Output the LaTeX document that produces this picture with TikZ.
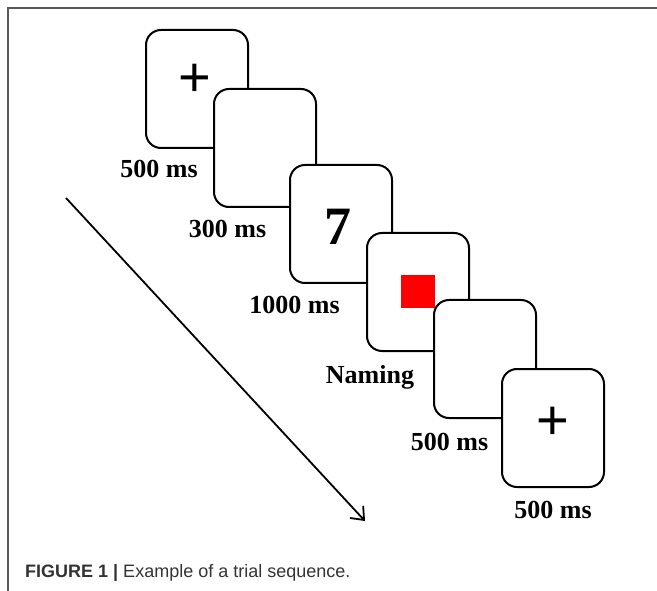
\documentclass[tikz,border=0pt]{standalone}
\usepackage{fontspec}
\setmainfont{Liberation Serif}
\newfontfamily\capfont{Liberation Sans}
\usetikzlibrary{arrows.meta,positioning}

\begin{document}
\begin{tikzpicture}[
  x=1pt, y=-1pt,
  >={Straight Barb[length=11pt,width=18pt]},
  screen/.style={draw, line width=2pt, rounded corners=15pt, fill=white,
                 anchor=north west, inner sep=0pt,
                 minimum width=102pt, minimum height=118pt},
  dur/.style={font=\fontsize{26}{30}\selectfont\bfseries, anchor=base, inner sep=0pt},
  cross/.style={font=\capfont\fontsize{56}{60}\selectfont, inner sep=0pt}
]
\useasboundingbox (0,0) rectangle (657,591);

% frame
\draw[black!65, line width=1.2pt] (8,591) -- (8,8) -- (657,8);

% screens of one trial
\node[screen] (fix1)  at (145,29)  {};
\node[screen] (blank1) at (213,88)  {};
\node[screen] (prime) at (289,164) {};
\node[screen] (target) at (366,232) {};
\node[screen] (blank2) at (433,299) {};
\node[screen] (fix2)  at (501,368) {};

\node[cross] (plus1) at (195,80) {+};
\node[font=\fontsize{54}{56}\selectfont\bfseries, inner sep=0pt] (digit) at (338,227) {7};
\node[fill=red, minimum width=34pt, minimum height=33pt, inner sep=0pt] (patch) at (target.center) {};
\node[cross] (plus2) at (553,423) {+};

% durations
\node[dur] (t1) at (159,178) {500 ms};
\node[dur] (t2) at (227.5,238) {300 ms};
\node[dur] (t3) at (294.5,313) {1000 ms};
\node[dur] (t4) at (370,383) {Naming};
\node[dur] (t5) at (449.5,450) {500 ms};
\node[dur] (t6) at (fix2.south |- 0,518) {500 ms};

% time axis
\coordinate (tstart) at (66,198);
\coordinate (tend) at (365,521);
\draw[->, line width=1.8pt] (tstart) -- (tend);

\node[font=\capfont\fontsize{18}{22}\selectfont, text=black!80, anchor=base west, inner sep=0pt]
  (caption) at (25,577) {\textbf{FIGURE 1 |} Example of a trial sequence.};
\end{tikzpicture}
\end{document}
